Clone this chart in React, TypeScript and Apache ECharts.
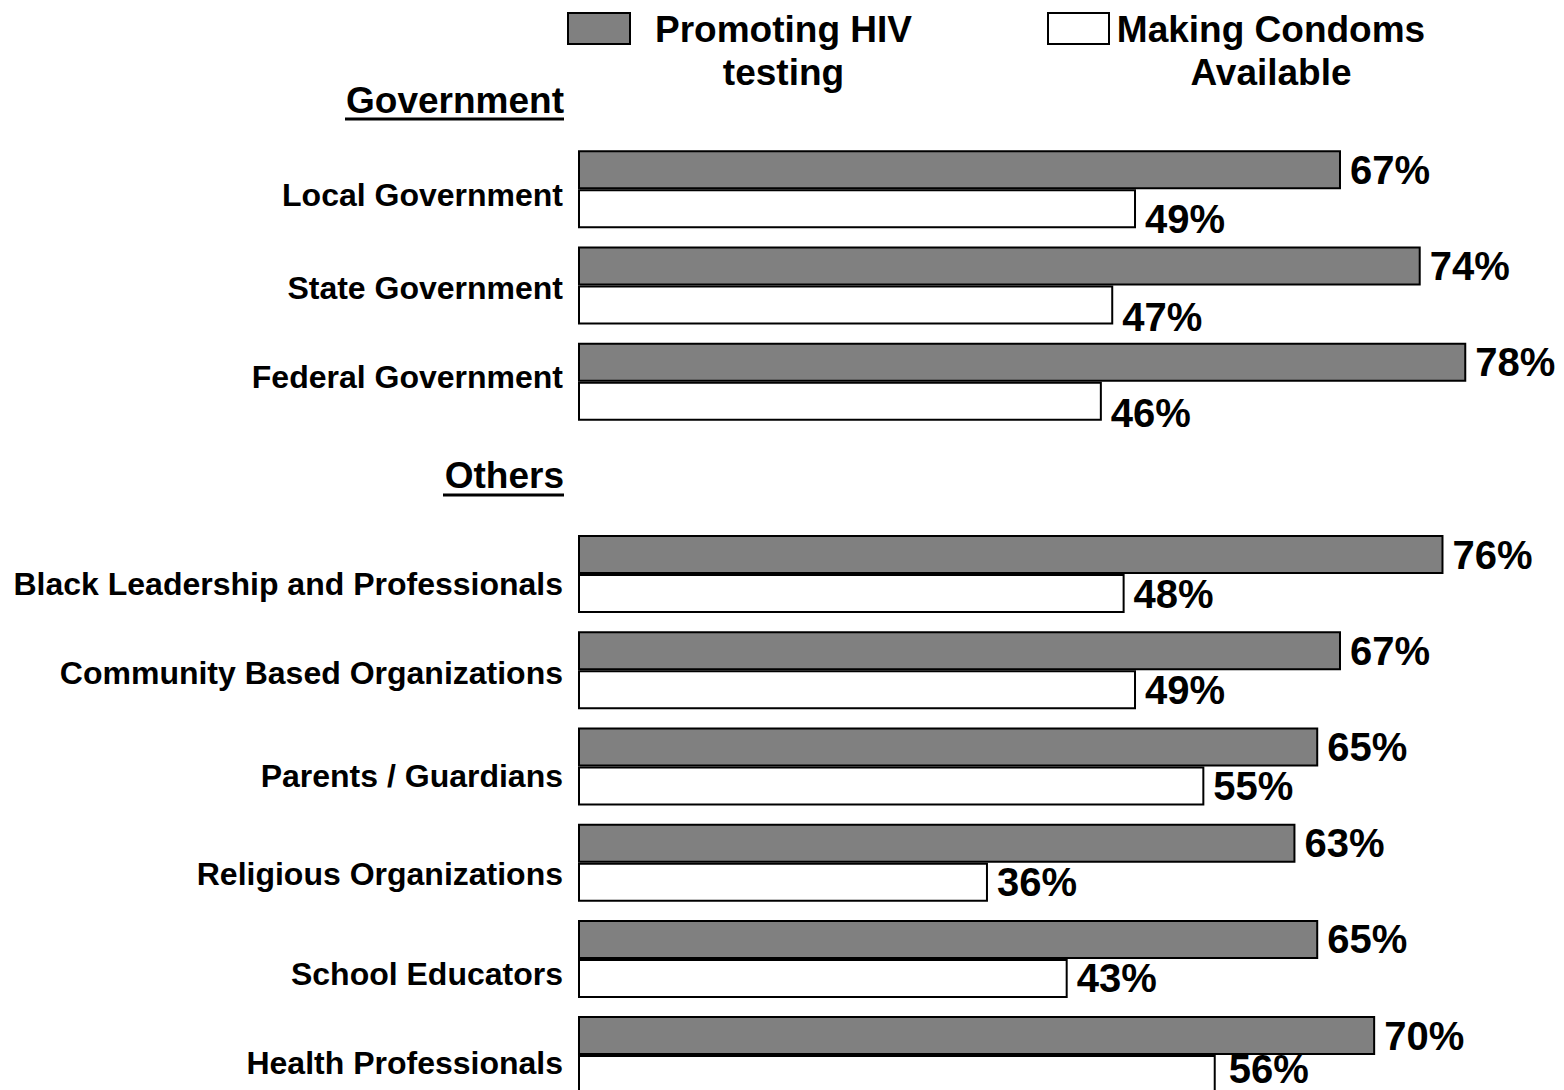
import React, { useEffect, useRef } from 'react';
import * as echarts from 'echarts';

const FONT = '"Liberation Sans", Arial, Helvetica, sans-serif';

// ---- data ----
const seriesNames = ['Promoting HIV testing', 'Making Condoms Available'];
const legendLines = [
  ['Promoting HIV', 'testing'],
  ['Making Condoms', 'Available'],
];
const groupTitles = ['Government', 'Others'];
const governmentCategories = ['Local Government', 'State Government', 'Federal Government'];
const otherCategories = [
  'Black Leadership and Professionals',
  'Community Based Organizations',
  'Parents / Guardians',
  'Religious Organizations',
  'School Educators',
  'Health Professionals',
];
const hivGovernment = [67, 74, 78];
const hivOthers = [76, 67, 65, 63, 65, 70];
const condomsGovernment = [49, 47, 46];
const condomsOthers = [48, 49, 55, 36, 43, 56];

// ---- label nudges (style only) ----
const categoryLabelShift: Record<string, number> = {
  'Local Government': 6,
  'State Government': 2,
  'Federal Government': -5,
  'Black Leadership and Professionals': 10,
  'Community Based Organizations': 3,
  'Parents / Guardians': 9,
  'Religious Organizations': 11,
  'School Educators': 15,
  'Health Professionals': 8,
};
const condomLabelOffset: Record<string, number[]> = {
  'Local Government': [0, 10],
  'State Government': [0, 12],
  'Federal Government': [0, 12],
  'Health Professionals': [4, -6],
};

export default function App() {
  const ref = useRef<HTMLDivElement>(null);

  useEffect(() => {
    if (!ref.current) return;
    const chart = echarts.init(ref.current, null, { renderer: 'svg' });

    const axisCats = [groupTitles[0], ...governmentCategories, groupTitles[1], ...otherCategories];
    const hivData = ['-', ...hivGovernment, '-', ...hivOthers];
    const condomValues = ['-', ...condomsGovernment, '-', ...condomsOthers];

    const richStyles: Record<string, any> = {};
    const keyFor: Record<string, string> = {};
    axisCats.forEach((c, i) => {
      const dy = categoryLabelShift[c] || 0;
      const key = 'c' + i;
      keyFor[c] = key;
      richStyles[key] = {
        fontSize: 32,
        fontWeight: 'bold',
        color: '#000',
        fontFamily: FONT,
        padding: dy >= 0 ? [2 * dy, 0, 0, 0] : [0, 0, -2 * dy, 0],
      };
    });

    const condomData = condomValues.map((v, i) => {
      const off = condomLabelOffset[axisCats[i]];
      if (off && v !== '-') {
        return { value: v, label: { offset: off } };
      }
      return v;
    });

    const valueLabel = {
      show: true,
      position: 'right',
      distance: 9,
      formatter: '{c}%',
      fontSize: 40,
      fontWeight: 'bold',
      color: '#000',
      fontFamily: FONT,
    };

    const textStyleBold = { fill: '#000', fontWeight: 'bold', fontFamily: FONT };

    chart.setOption({
      animation: false,
      backgroundColor: '#fff',
      grid: {
        left: 578,
        top: 45,
        width: 1138.8,
        height: 1058.2,
        containLabel: false,
        outerBoundsMode: 'none',
      },
      xAxis: { type: 'value', min: 0, max: 100, show: false },
      yAxis: {
        type: 'category',
        inverse: true,
        data: axisCats,
        axisLine: { show: false },
        axisTick: { show: false },
        splitLine: { show: false },
        axisLabel: {
          margin: 15,
          fontSize: 32,
          fontWeight: 'bold',
          color: '#000',
          fontFamily: FONT,
          formatter: (v: string) => (groupTitles.includes(v) ? '' : `{${keyFor[v]}|${v}}`),
          rich: richStyles,
        },
      },
      series: [
        {
          name: seriesNames[0],
          type: 'bar',
          data: hivData,
          barWidth: 39,
          barGap: '0%',
          itemStyle: { color: '#808080', borderColor: '#000', borderWidth: 2 },
          label: valueLabel,
        },
        {
          name: seriesNames[1],
          type: 'bar',
          data: condomData,
          barWidth: 39,
          barGap: '0%',
          itemStyle: { color: '#ffffff', borderColor: '#000', borderWidth: 2 },
          label: valueLabel,
        },
      ],
      graphic: [
        // legend
        {
          type: 'rect',
          shape: { x: 568, y: 13, width: 62, height: 31 },
          style: { fill: '#808080', stroke: '#000', lineWidth: 2 },
        },
        {
          type: 'text',
          x: 783.5,
          y: 8,
          style: {
            ...textStyleBold,
            text: legendLines[0].join('\n'),
            fontSize: 37,
            lineHeight: 43,
            align: 'center',
            verticalAlign: 'top',
          },
        },
        {
          type: 'rect',
          shape: { x: 1048, y: 13, width: 61, height: 31 },
          style: { fill: '#fff', stroke: '#000', lineWidth: 2 },
        },
        {
          type: 'text',
          x: 1271,
          y: 8,
          style: {
            ...textStyleBold,
            text: legendLines[1].join('\n'),
            fontSize: 37,
            lineHeight: 43,
            align: 'center',
            verticalAlign: 'top',
          },
        },
        // group headings
        {
          type: 'text',
          x: 564,
          y: 100,
          style: { ...textStyleBold, text: groupTitles[0], fontSize: 37, align: 'right', verticalAlign: 'middle' },
        },
        {
          type: 'line',
          shape: { x1: 345, y1: 119, x2: 564, y2: 119 },
          style: { stroke: '#000', lineWidth: 3 },
        },
        {
          type: 'text',
          x: 564,
          y: 475,
          style: { ...textStyleBold, text: groupTitles[1], fontSize: 37, align: 'right', verticalAlign: 'middle' },
        },
        {
          type: 'line',
          shape: { x1: 443, y1: 495, x2: 564, y2: 495 },
          style: { stroke: '#000', lineWidth: 3 },
        },
      ],
    });

    return () => chart.dispose();
  }, []);

  return (
    <div
      ref={ref}
      style={{ position: 'fixed', left: 0, top: 0, width: 1564, height: 1090, background: '#fff' }}
    />
  );
}
